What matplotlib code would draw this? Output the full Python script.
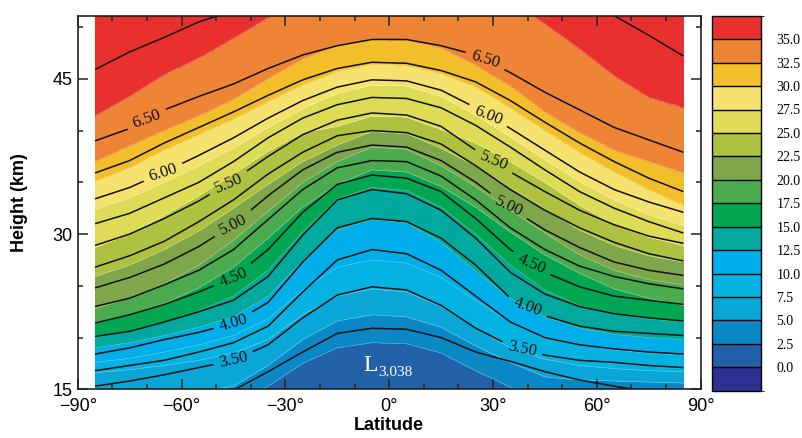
import matplotlib
matplotlib.use('Agg')
import numpy as np
import matplotlib.pyplot as plt
from matplotlib.colors import ListedColormap, BoundaryNorm
from matplotlib.cm import ScalarMappable
from matplotlib.ticker import MultipleLocator, FixedLocator

# latitudes of the sampled columns (deg)
lat = [-85, -75, -65, -55, -45, -35, -25, -15, -5, 5, 15, 25, 35, 45, 55, 65, 75, 85]

# contoured quantity: height (km) where it reaches each level, per latitude
line_levels = [3.0, 3.25, 3.5, 3.75, 4.0, 4.25, 4.5, 4.75, 5.0, 5.25, 5.5, 5.75, 6.0, 6.25, 6.5, 6.75, 7.0]
line_height = [
    [11.0] * 18,
    [13.5, 13.8, 14.2, 14.6, 14.9, 16.7, 18.6, 20.4, 20.9, 20.8, 20.0, 18.6, 17.7, 16.7, 15.9, 15.3, 14.8, 14.4],
    [15.3, 15.8, 16.4, 17.1, 17.8, 19.3, 21.9, 24.1, 24.9, 24.6, 23.1, 20.9, 19.2, 18.3, 17.8, 17.6, 17.3, 17.1],
    [16.8, 17.3, 17.8, 18.6, 19.5, 21.1, 24.4, 27.5, 28.5, 28.1, 26.5, 24.0, 21.5, 20.0, 19.3, 18.9, 18.6, 18.4],
    [18.4, 19.0, 19.8, 20.5, 21.4, 23.4, 27.3, 30.6, 31.5, 31.2, 29.6, 27.0, 23.8, 22.1, 21.1, 20.6, 20.4, 20.2],
    [20.1, 20.6, 21.5, 22.5, 23.6, 25.9, 29.9, 33.3, 34.3, 33.9, 32.3, 29.6, 26.3, 24.2, 23.0, 22.3, 21.9, 21.6],
    [21.4, 22.2, 23.2, 24.4, 25.8, 28.5, 32.1, 34.8, 35.7, 35.4, 34.1, 31.5, 28.5, 26.3, 24.9, 24.0, 23.6, 23.2],
    [23.0, 23.8, 25.1, 26.5, 28.5, 31.4, 34.3, 36.4, 37.1, 37.0, 35.6, 33.3, 30.6, 28.5, 26.9, 25.9, 25.2, 24.7],
    [24.8, 25.8, 27.1, 28.8, 30.9, 33.7, 36.2, 37.9, 38.6, 38.4, 37.1, 35.0, 32.5, 30.4, 28.7, 27.3, 26.5, 26.0],
    [26.8, 27.9, 29.3, 31.2, 33.3, 35.8, 37.9, 39.5, 40.0, 39.8, 38.7, 36.6, 34.3, 32.3, 30.6, 29.2, 28.1, 27.4],
    [28.9, 30.0, 31.5, 33.2, 35.2, 37.5, 39.6, 41.0, 41.7, 41.5, 40.4, 38.1, 36.0, 34.1, 32.3, 30.9, 29.8, 29.1],
    [31.0, 32.0, 33.5, 35.0, 37.0, 39.3, 41.2, 42.5, 43.2, 43.1, 42.2, 40.5, 38.4, 36.2, 34.1, 32.5, 31.2, 30.1],
    [33.4, 34.5, 36.0, 37.6, 39.3, 41.2, 42.9, 44.2, 44.9, 44.8, 43.9, 42.2, 40.2, 38.1, 36.0, 34.3, 33.1, 32.1],
    [35.9, 37.1, 38.8, 40.3, 41.8, 43.4, 44.9, 46.0, 46.6, 46.5, 45.8, 44.7, 42.9, 40.8, 38.8, 37.0, 35.4, 34.1],
    [39.0, 40.2, 42.0, 43.3, 44.5, 46.0, 47.3, 48.2, 48.8, 48.8, 48.2, 47.3, 45.6, 43.7, 42.0, 40.3, 39.1, 37.9],
    [45.9, 47.6, 49.0, 50.5, 51.6, 52.6, 53.6, 54.0, 54.3, 54.3, 54.0, 53.6, 53.4, 52.8, 52.1, 51.1, 49.2, 47.2],
    [58.0] * 18,
]

# shaded quantity: height (km) of each colour boundary, per latitude
fill_levels = [0.0, 2.5, 5.0, 7.5, 10.0, 12.5, 15.0, 17.5, 20.0, 22.5, 25.0, 27.5, 30.0, 32.5, 35.0, 40.0]
fill_height = [
    [10.0] * 18,
    [12.0, 12.5, 13.0, 13.5, 14.0, 15.3, 17.5, 19.0, 19.5, 19.4, 18.5, 16.8, 15.2, 14.0, 13.5, 13.0, 12.5, 12.0],
    [14.0, 14.2, 14.5, 14.8, 15.3, 17.3, 19.8, 21.6, 22.2, 22.0, 21.0, 19.2, 17.6, 16.2, 15.9, 15.8, 15.7, 15.6],
    [16.6, 16.9, 17.3, 17.8, 18.5, 19.8, 22.2, 24.0, 24.7, 24.4, 23.0, 20.9, 19.0, 17.9, 17.3, 17.0, 16.8, 16.7],
    [17.6, 18.0, 18.6, 19.3, 20.2, 21.8, 24.6, 26.8, 27.5, 27.2, 25.8, 23.6, 21.5, 20.1, 19.3, 18.8, 18.5, 18.3],
    [19.0, 19.5, 20.2, 21.0, 22.0, 24.0, 27.4, 30.4, 31.4, 31.1, 29.2, 26.4, 23.8, 22.0, 20.9, 20.3, 20.0, 19.8],
    [20.0, 20.6, 21.5, 22.6, 24.0, 26.5, 30.2, 33.4, 34.5, 34.2, 32.6, 30.0, 27.0, 24.6, 23.1, 22.3, 21.8, 21.5],
    [21.4, 22.2, 23.3, 24.8, 26.8, 29.6, 32.6, 34.8, 36.2, 36.0, 34.6, 32.6, 30.2, 28.0, 26.2, 24.7, 23.8, 23.1],
    [22.8, 23.8, 25.2, 27.0, 29.4, 32.2, 35.0, 37.0, 38.4, 38.2, 36.6, 34.6, 32.3, 30.1, 28.0, 26.5, 25.6, 25.1],
    [25.9, 27.0, 28.5, 30.3, 32.5, 34.8, 37.0, 38.6, 39.9, 39.7, 38.3, 36.6, 34.5, 32.4, 30.4, 28.9, 27.9, 27.3],
    [28.7, 30.0, 31.8, 33.7, 35.8, 38.0, 39.8, 40.4, 41.4, 41.3, 40.1, 38.8, 37.0, 35.0, 32.8, 30.9, 29.7, 28.9],
    [32.4, 33.5, 35.0, 36.6, 38.3, 40.3, 42.1, 43.6, 44.4, 44.3, 43.3, 41.5, 39.4, 37.2, 35.1, 33.3, 31.9, 30.8],
    [35.1, 36.4, 38.1, 39.6, 41.1, 42.8, 44.4, 45.7, 46.4, 46.3, 45.5, 44.2, 42.2, 40.0, 37.9, 36.0, 34.3, 32.8],
    [37.0, 38.5, 40.0, 41.4, 43.0, 45.0, 46.9, 48.2, 48.8, 48.7, 48.0, 46.3, 44.3, 41.8, 39.8, 38.1, 37.0, 35.9],
    [41.4, 43.3, 45.4, 47.0, 48.9, 50.9, 53.0, 54.5, 55.0, 55.0, 54.5, 53.5, 52.5, 50.3, 47.9, 45.3, 43.2, 42.2],
    [60.0] * 18,
]

fill_colors = ['#2E3192', '#2260A8', '#0A88C6', '#0AA6D8', '#05B3E2', '#00AEEA',
               '#00A99D', '#00A651', '#4CAB4F', '#7EA64A', '#AEC140', '#DEDB57',
               '#F6E36F', '#F2BF2A', '#EE8435', '#E8312F']
cbar_ticks = [0.0, 2.5, 5.0, 7.5, 10.0, 12.5, 15.0, 17.5, 20.0, 22.5, 25.0, 27.5, 30.0, 32.5, 35.0]
label_levels = [3.5, 4.0, 4.5, 5.0, 5.5, 6.0, 6.5]
plain_levels = [3.25, 3.75, 4.25, 4.75, 5.25, 5.75, 6.25, 6.75]
x_ticks = [-90, -60, -30, 0, 30, 60, 90]
y_ticks = [15, 30, 45]

sans = ['Liberation Sans', 'DejaVu Sans']
serif = ['Liberation Serif', 'DejaVu Serif']

fig = plt.figure(figsize=(8.02, 4.38), dpi=100)
ax = fig.add_axes([0.0969, 0.1112, 0.7768, 0.853])

Xl = np.tile(lat, (len(line_levels), 1))
Yl = np.array(line_height)
Zl = np.repeat(np.array(line_levels)[:, None], len(lat), axis=1)

Xf = np.tile(lat, (len(fill_levels), 1))
Yf = np.array(fill_height)
Zf = np.repeat(np.array(fill_levels)[:, None], len(lat), axis=1)

bounds = [-5.0] + cbar_ticks + [45.0]
cmap = ListedColormap(fill_colors)
norm = BoundaryNorm(bounds, cmap.N)
ax.contourf(Xf, Yf, Zf, levels=bounds, cmap=cmap, norm=norm)
ax.contour(Xf, Yf, Zf, levels=cbar_ticks, colors='white', linewidths=0.4, alpha=0.45)

ax.contour(Xl, Yl, Zl, levels=plain_levels, colors='#111111', linewidths=1.1)
cs = ax.contour(Xl, Yl, Zl, levels=label_levels, colors='#111111', linewidths=1.1)
label_pos = [(-70, 41.0), (-65.3, 35.9), (-46.5, 35.0), (-45, 30.9), (-45, 25.7), (-45, 21.4), (-45, 17.8),
             (27.8, 46.9), (28.4, 41.2), (30, 36.8), (34.4, 32.6), (40.8, 26.7), (39.9, 22.8), (38.4, 18.8)]
lbls = ax.clabel(cs, fmt='%.2f', fontsize=12, manual=label_pos, inline_spacing=3)
for t in lbls:
    t.set_family(serif)

ax.text(-5.5, 17.3, 'L', color='white', fontsize=17, family=serif, ha='center', va='center')
ax.text(-3.2, 16.3, '3.038', color='white', fontsize=11, family=serif, ha='left', va='baseline')

ax.set_xlim(-90, 90)
ax.set_ylim(15, 51.1)
ax.xaxis.set_major_locator(FixedLocator(x_ticks))
ax.xaxis.set_minor_locator(MultipleLocator(10))
ax.yaxis.set_major_locator(FixedLocator(y_ticks))
ax.yaxis.set_minor_locator(MultipleLocator(5))
ax.set_xticklabels(['\u2212%d\u00b0' % -v if v < 0 else '%d\u00b0' % v for v in x_ticks], family=sans, fontsize=13)
ax.set_yticklabels([str(v) for v in y_ticks], family=sans, fontsize=13)
ax.tick_params(which='both', direction='in', top=True, right=True, width=1.1, color='#222222')
ax.tick_params(which='major', length=7)
ax.tick_params(axis='x', which='major', pad=6)
ax.tick_params(axis='y', which='major', pad=4)
ax.tick_params(which='minor', length=3.6)
for s in ax.spines.values():
    s.set_linewidth(1.2)
    s.set_color('#222222')
ax.set_xlabel('Latitude', family=sans, fontsize=13, fontweight='bold', labelpad=2)
ax.set_ylabel('Height (km)', family=sans, fontsize=13, fontweight='bold', labelpad=17)

cax = fig.add_axes([0.8874, 0.108, 0.0615, 0.856])
cb_bounds = [-2.5] + cbar_ticks + [37.5]
sm = ScalarMappable(norm=BoundaryNorm(cb_bounds, cmap.N), cmap=cmap)
cb = fig.colorbar(sm, cax=cax, boundaries=cb_bounds, ticks=cbar_ticks, drawedges=True)
cb.outline.set_linewidth(1.0)
cb.dividers.set_linewidth(1.0)
cb.ax.tick_params(length=0, pad=11)
cb.ax.set_yticklabels(['%.1f' % v for v in cbar_ticks], family=serif, fontsize=10)

fig.savefig('out.png', dpi=100)
